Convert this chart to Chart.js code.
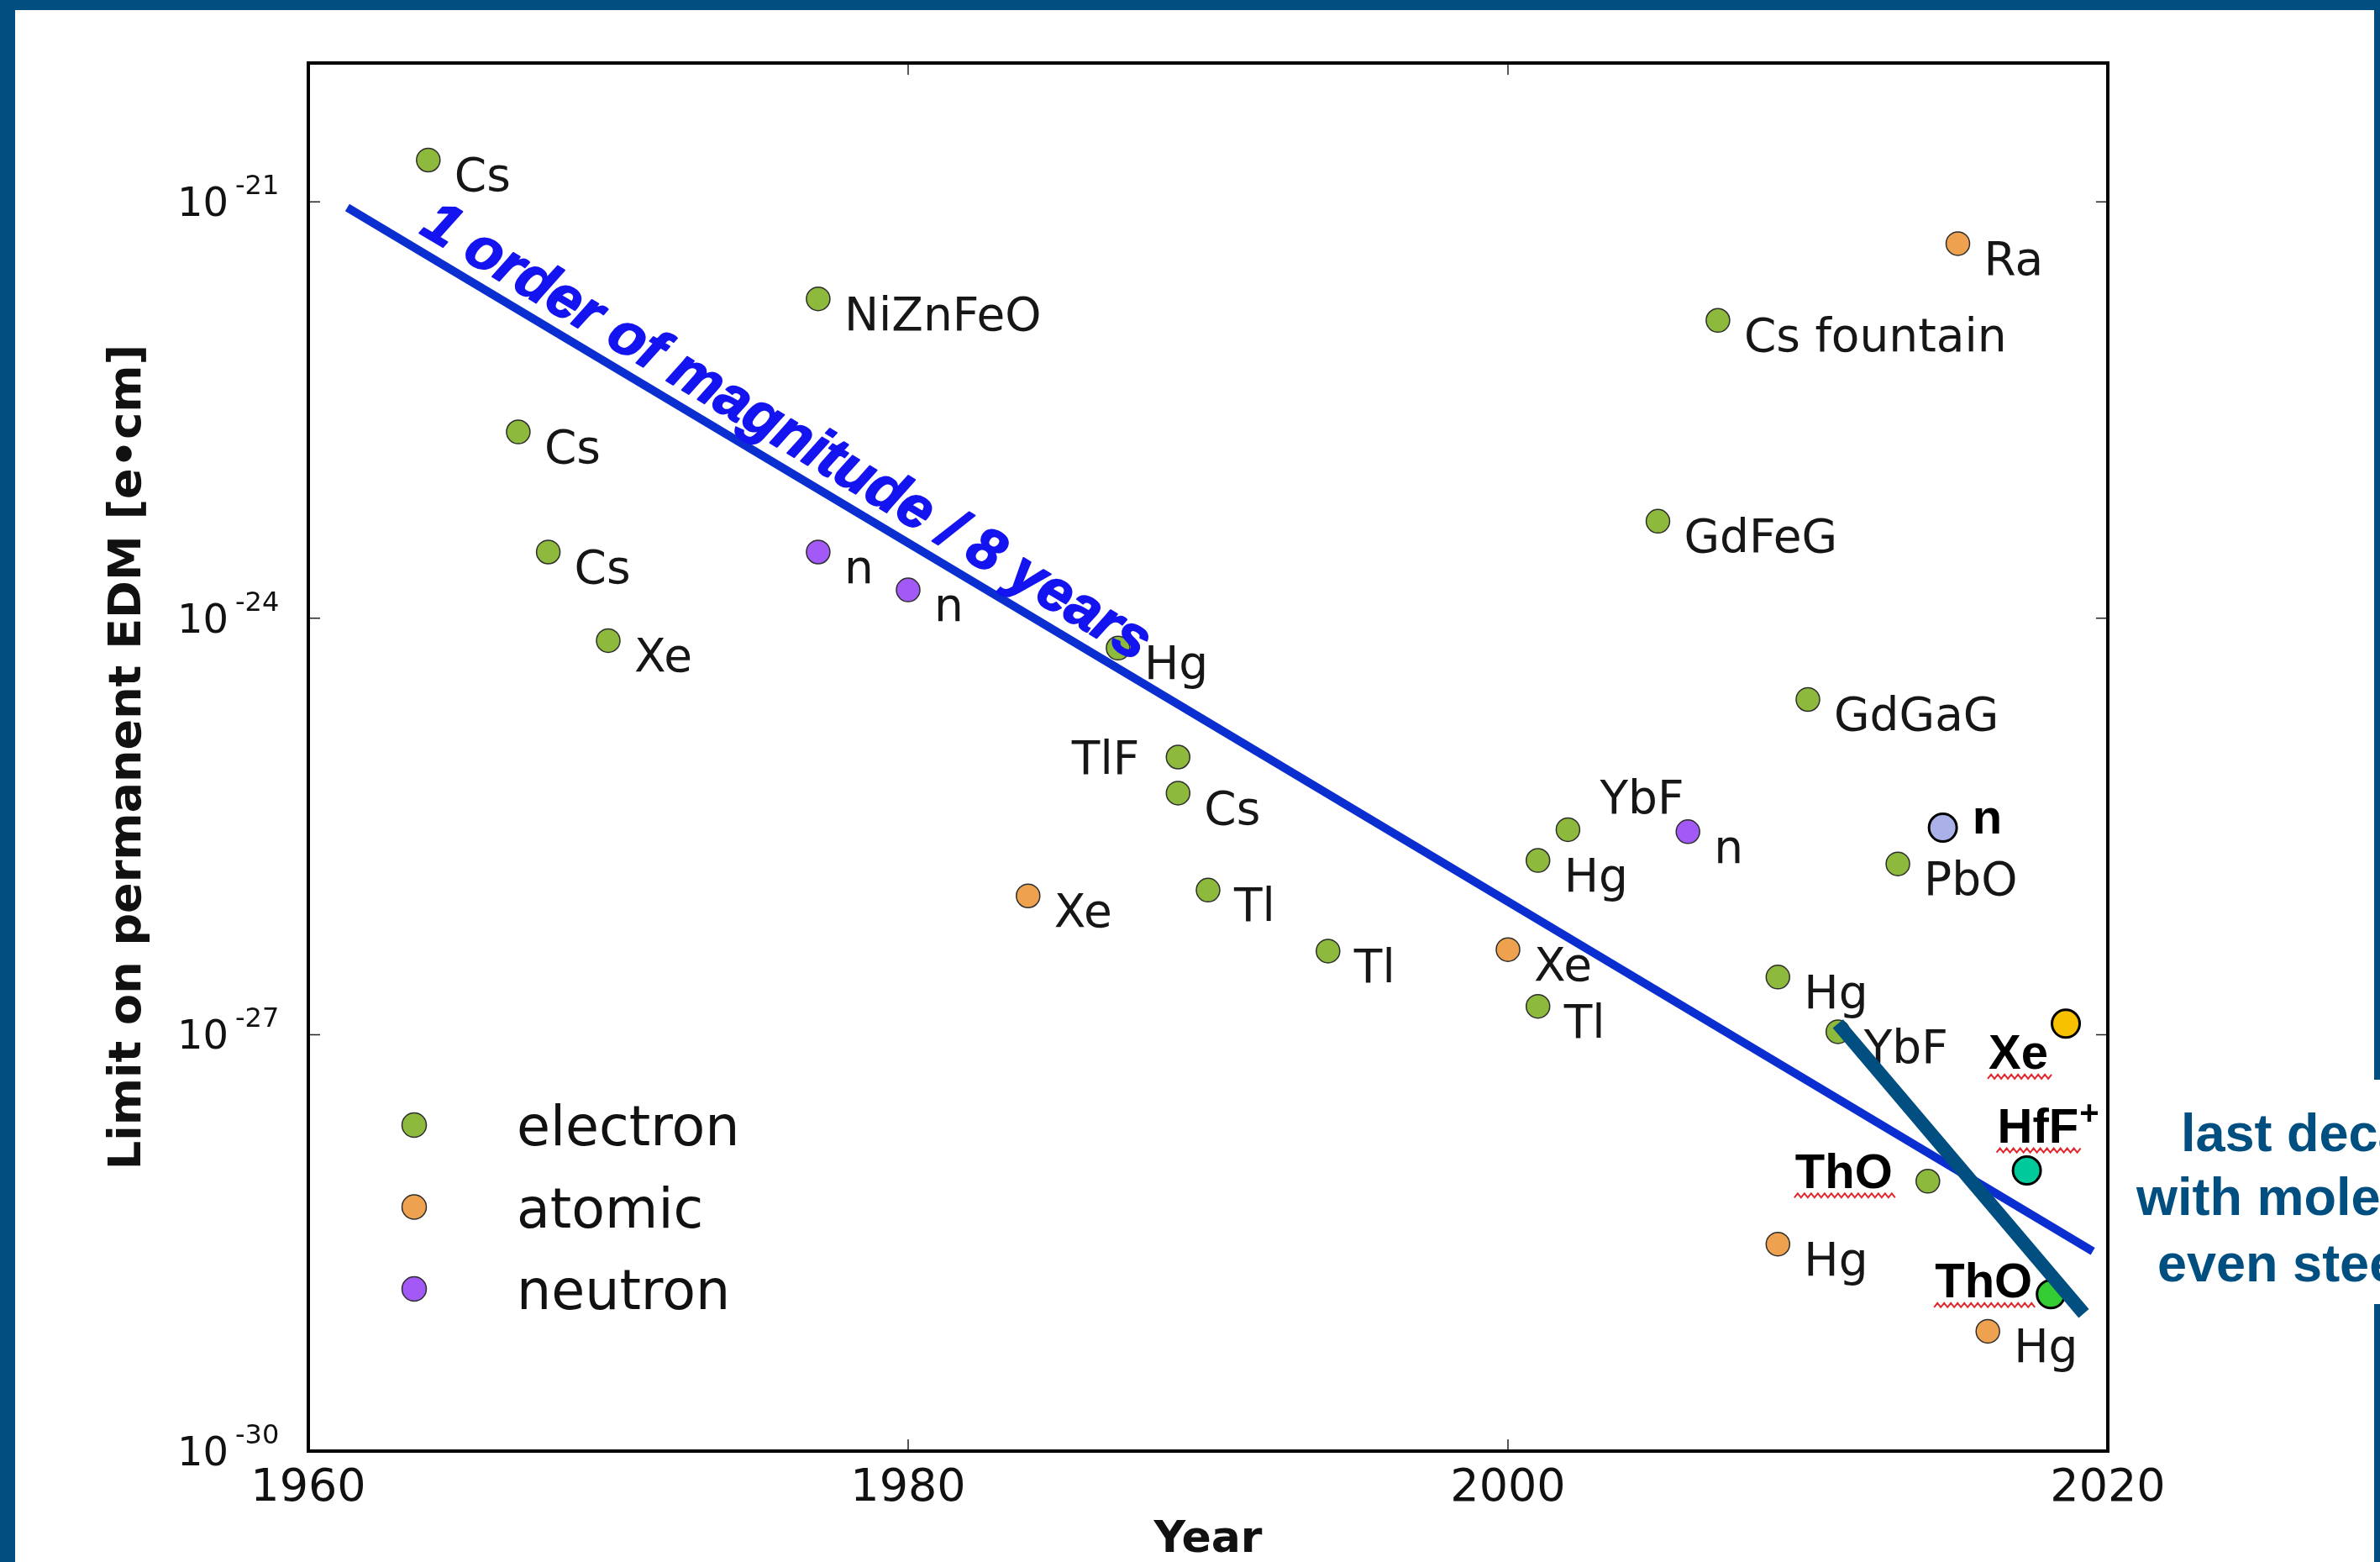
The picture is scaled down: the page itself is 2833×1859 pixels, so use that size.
<!DOCTYPE html>
<html>
<head>
<meta charset="utf-8">
<script src="https://cdn.jsdelivr.net/npm/chart.js@4.4.0/dist/chart.umd.min.js"></script>
<style>
  html, body { margin: 0; padding: 0; background: #fff; overflow: hidden; }
  canvas { display: block; }
</style>
</head>
<body>
<canvas id="edmChart" width="2833" height="1859"></canvas>
<script>
// electron EDM searches (green)
let electronYears = [1964, 1967, 1968, 1970, 1977, 1987, 1989, 1989, 1990, 1994, 2001, 2001, 2002, 2005, 2007, 2009, 2010, 2011, 2013, 2014];
let electronLimits = [2.0e-21, 2.2e-23, 3.0e-24, 6.9e-25, 2.0e-22, 6.1e-25, 1.0e-25, 5.5e-26, 1.1e-26, 4.0e-27, 1.8e-26, 1.6e-27, 3.0e-26, 5.0e-24, 1.4e-22, 2.6e-27, 2.6e-25, 1.05e-27, 1.7e-26, 8.8e-29];
let electronNames = ["Cs", "Cs", "Cs", "Xe", "NiZnFeO", "Hg", "TlF", "Cs", "Tl", "Tl", "Hg", "Tl", "YbF", "GdFeG", "Cs fountain", "Hg", "GdGaG", "YbF", "PbO", "ThO"];

// atomic EDM searches (orange)
let atomicYears = [1984, 2000, 2009, 2015, 2016];
let atomicLimits = [1.0e-26, 4.1e-27, 3.1e-29, 5.0e-22, 7.3e-30];
let atomicNames = ["Xe", "Xe", "Hg", "Ra", "Hg"];

// neutron EDM searches (purple)
let neutronYears = [1977, 1980, 2006];
let neutronLimits = [3.0e-24, 1.6e-24, 2.9e-26];
let neutronNames = ["n", "n", "n"];

// recent results, highlighted
let recentYears = [2014.5, 2018.6, 2017.3, 2018.1];
let recentLimits = [3.1e-26, 1.2e-27, 1.05e-28, 1.35e-29];
let recentNames = ["n", "Xe", "HfF+", "ThO"];

// guide lines
let trendYears = [1961.3, 2019.5];
let trendLimits = [9.1e-22, 2.75e-29];
let moleculeYears = [2011.0, 2019.2];
let moleculeLimits = [1.2e-27, 9.8e-30];

let yTickValues = [1e-30, 1e-27, 1e-24, 1e-21];
let legendNames = ["electron", "atomic", "neutron"];
let trendNote = "1 order of magnitude / 8 years";
let sideNote = ["last decade", "with molecules", "even steeper"];

// label placement relative to the marker: dx, dy (baseline), align, bold, squiggle
const placements = {
    r: [31, 37, "left", false, false],
    l: [-46, 20, "right", false, false],
    ur: [38, -19, "left", false, false],
    thoL: [-42, 8, "right", true, true],
    nR: [35, 7, "left", true, false],
    xeBL: [-21, 54, "right", true, true],
    hfUL: [-35, -33, "left", true, true],
    thoR: [-22, 4, "right", true, true]
};
let electronPlaces = ["r", "r", "r", "r", "r", "r", "l", "r", "r", "r", "r", "r", "ur", "r", "r", "r", "r", "r", "r", "thoL"];
let atomicPlaces = ["r", "r", "r", "r", "r"];
let neutronPlaces = ["r", "r", "r"];
let recentPlaces = ["nR", "xeBL", "hfUL", "thoR"];

let recentColors = ["#aab0e8", "#f7c100", "#00c99b", "#33cc33"];
const frameBlue = "#004f80";

function pts(xs, ys) {
    return xs.map((x, i) => ({ x: x, y: ys[i] }));
}

function squiggle(ctx, x0, x1, y) {
    ctx.save();
    ctx.strokeStyle = "#e3262b";
    ctx.lineWidth = 2;
    ctx.beginPath();
    let i = 0;
    for (let x = x0; x <= x1; x += 4, i++) {
        let yy = y + (i % 2 ? -2.5 : 2.5);
        if (i == 0) ctx.moveTo(x, yy); else ctx.lineTo(x, yy);
    }
    ctx.stroke();
    ctx.restore();
}

function drawLabel(ctx, text, x, y, p) {
    let [dx, dy, align, bold, wavy] = p;
    let sup = "";
    if (text.endsWith("+")) { sup = "+"; text = text.slice(0, -1); }
    ctx.font = bold ? 'bold 58px "Liberation Sans", Arial, sans-serif' : '55px "DejaVu Sans", sans-serif';
    let w = ctx.measureText(text).width;
    let left = align == "left" ? x + dx : x + dx - w;
    let base = y + dy;
    ctx.textAlign = "left";
    ctx.textBaseline = "alphabetic";
    ctx.fillStyle = bold ? "#000" : "#161616";
    ctx.fillText(text, left, base);
    if (sup) {
        ctx.font = 'bold 40px "Liberation Sans", Arial, sans-serif';
        ctx.fillText(sup, left + w + 1, base - 22);
    }
    if (wavy) squiggle(ctx, left - 1, left + w + 5, base + 9);
}

const annotate = {
    id: "annotate",
    beforeDraw(chart) {
        let ctx = chart.ctx;
        ctx.save();
        ctx.fillStyle = "#fff";
        ctx.fillRect(0, 0, chart.width, chart.height);
        ctx.fillStyle = frameBlue;
        ctx.fillRect(0, 0, chart.width, 12);
        ctx.fillRect(0, 0, 18, chart.height);
        ctx.fillRect(chart.width - 7, 0, 7, 1285);
        ctx.fillRect(chart.width - 7, 1552, 7, chart.height - 1552);
        ctx.restore();
    },
    beforeDatasetsDraw(chart) {
        let ctx = chart.ctx;
        let area = chart.chartArea;
        ctx.save();
        chart.data.datasets.forEach((ds, di) => {
            if (!ds.names) return;
            let meta = chart.getDatasetMeta(di);
            meta.data.forEach((pt, i) => drawLabel(ctx, ds.names[i], pt.x, pt.y, placements[ds.places[i]]));
        });
        // legend in the lower left of the plot
        legendNames.forEach((name, i) => {
            let ds = chart.data.datasets[i];
            let cx = area.left + 126;
            let cy = area.bottom - 388 + i * 97.5;
            ctx.beginPath();
            ctx.arc(cx, cy, 14.5, 0, Math.PI * 2);
            ctx.fillStyle = ds.backgroundColor;
            ctx.fill();
            ctx.lineWidth = 1.5;
            ctx.strokeStyle = "#2d2d2d";
            ctx.stroke();
            ctx.font = '65px "DejaVu Sans", sans-serif';
            ctx.fillStyle = "#111";
            ctx.textAlign = "left";
            ctx.textBaseline = "alphabetic";
            ctx.fillText(name, cx + 122, cy + 24);
        });
        ctx.restore();
    },
    afterDatasetsDraw(chart) {
        let ctx = chart.ctx;
        let meta = chart.getDatasetMeta(4);
        let a = meta.data[0], b = meta.data[1];
        let ang = Math.atan2(b.y - a.y, b.x - a.x);
        ctx.save();
        ctx.translate(a.x, a.y);
        ctx.rotate(ang);
        ctx.font = 'italic bold 70px "Liberation Sans", Arial, sans-serif';
        ctx.fillStyle = "#1414f0";
        ctx.strokeStyle = "#1414f0";
        ctx.lineWidth = 2;
        ctx.lineJoin = "round";
        ctx.textAlign = "left";
        ctx.textBaseline = "alphabetic";
        ctx.fillText(trendNote, 88, -18);
        ctx.strokeText(trendNote, 88, -18);
        ctx.restore();
    },
    afterDraw(chart) {
        let ctx = chart.ctx;
        let { left, right, top, bottom } = chart.chartArea;
        let xs = chart.scales.x, ys = chart.scales.y;
        ctx.save();
        // inward ticks
        ctx.strokeStyle = "#222";
        ctx.lineWidth = 1.5;
        ctx.beginPath();
        yTickValues.forEach(v => {
            let py = ys.getPixelForValue(v);
            if (Math.abs(py - bottom) < 2 || Math.abs(py - top) < 2) return;
            ctx.moveTo(left, py); ctx.lineTo(left + 14, py);
            ctx.moveTo(right, py); ctx.lineTo(right - 14, py);
        });
        xs.ticks.forEach(t => {
            let px = xs.getPixelForValue(t.value);
            if (Math.abs(px - left) < 2 || Math.abs(px - right) < 2) return;
            ctx.moveTo(px, bottom); ctx.lineTo(px, bottom - 14);
            ctx.moveTo(px, top); ctx.lineTo(px, top + 14);
        });
        ctx.stroke();
        // plot frame
        ctx.lineWidth = 4;
        ctx.strokeStyle = "#000";
        ctx.strokeRect(left, top, right - left, bottom - top);
        // y tick labels as powers of ten
        ctx.fillStyle = "#111";
        ctx.textAlign = "left";
        ctx.textBaseline = "alphabetic";
        yTickValues.forEach(v => {
            let py = ys.getPixelForValue(v);
            let e = Math.round(Math.log10(v));
            ctx.font = '48px "DejaVu Sans", sans-serif';
            ctx.fillText("10", left - 156, py + 17);
            ctx.font = '32px "DejaVu Sans", sans-serif';
            ctx.fillText("-" + Math.abs(e), left - 87, py - 9);
        });
        // side note, cut by the picture edge
        ctx.font = 'bold 63px "Liberation Sans", Arial, sans-serif';
        ctx.fillStyle = frameBlue;
        ctx.textAlign = "left";
        sideNote.forEach((line, i) => ctx.fillText(line, [2596, 2543, 2568][i], [1370, 1446, 1525][i]));
        ctx.restore();
    }
};

new Chart("edmChart", {
    type: "scatter",
    data: {
        datasets: [
            {
                label: "electron",
                data: pts(electronYears, electronLimits),
                names: electronNames,
                places: electronPlaces,
                backgroundColor: "#8dba3c",
                borderColor: "#2d2d2d",
                borderWidth: 1.5,
                pointRadius: 14,
                order: 3
            },
            {
                label: "atomic",
                data: pts(atomicYears, atomicLimits),
                names: atomicNames,
                places: atomicPlaces,
                backgroundColor: "#eea24f",
                borderColor: "#2d2d2d",
                borderWidth: 1.5,
                pointRadius: 14,
                order: 3
            },
            {
                label: "neutron",
                data: pts(neutronYears, neutronLimits),
                names: neutronNames,
                places: neutronPlaces,
                backgroundColor: "#a259f5",
                borderColor: "#2d2d2d",
                borderWidth: 1.5,
                pointRadius: 14,
                order: 3
            },
            {
                label: "recent",
                data: pts(recentYears, recentLimits),
                names: recentNames,
                places: recentPlaces,
                backgroundColor: recentColors,
                borderColor: "#000",
                borderWidth: 3,
                pointRadius: 16.5,
                order: 2
            },
            {
                label: "trend",
                type: "line",
                data: pts(trendYears, trendLimits),
                borderColor: "#0b2ed0",
                borderWidth: 10,
                pointRadius: 0,
                showLine: true,
                order: 1
            },
            {
                label: "molecules",
                type: "line",
                data: pts(moleculeYears, moleculeLimits),
                borderColor: frameBlue,
                borderWidth: 16,
                pointRadius: 0,
                showLine: true,
                order: 0
            }
        ]
    },
    options: {
        responsive: false,
        animation: false,
        devicePixelRatio: 1,
        events: [],
        layout: { padding: { top: 75, right: 324, left: 0, bottom: 0 } },
        plugins: {
            legend: { display: false },
            tooltip: { enabled: false }
        },
        scales: {
            x: {
                type: "linear",
                min: 1960,
                max: 2020,
                afterFit: s => { s.height = 132; },
                grid: { display: false },
                border: { display: false },
                ticks: {
                    stepSize: 20,
                    maxRotation: 0,
                    padding: 5,
                    color: "#111",
                    font: { family: "DejaVu Sans", size: 54 },
                    callback: v => String(v)
                },
                title: {
                    display: true,
                    text: "Year",
                    color: "#111",
                    padding: 0,
                    font: { family: "DejaVu Sans", size: 52, weight: "bold", lineHeight: 1 }
                }
            },
            y: {
                type: "logarithmic",
                min: 1e-30,
                max: 1e-20,
                afterFit: s => { s.width = 367; },
                afterBuildTicks: s => { s.ticks = yTickValues.map(v => ({ value: v })); },
                grid: { display: false },
                border: { display: false },
                ticks: { display: false },
                title: {
                    display: true,
                    text: "Limit on permanent EDM [e\u2022cm]",
                    color: "#111",
                    padding: { top: 126, bottom: 0 },
                    font: { family: "DejaVu Sans", size: 54, weight: "bold", lineHeight: 1 }
                }
            }
        }
    },
    plugins: [annotate]
});
</script>
</body>
</html>
